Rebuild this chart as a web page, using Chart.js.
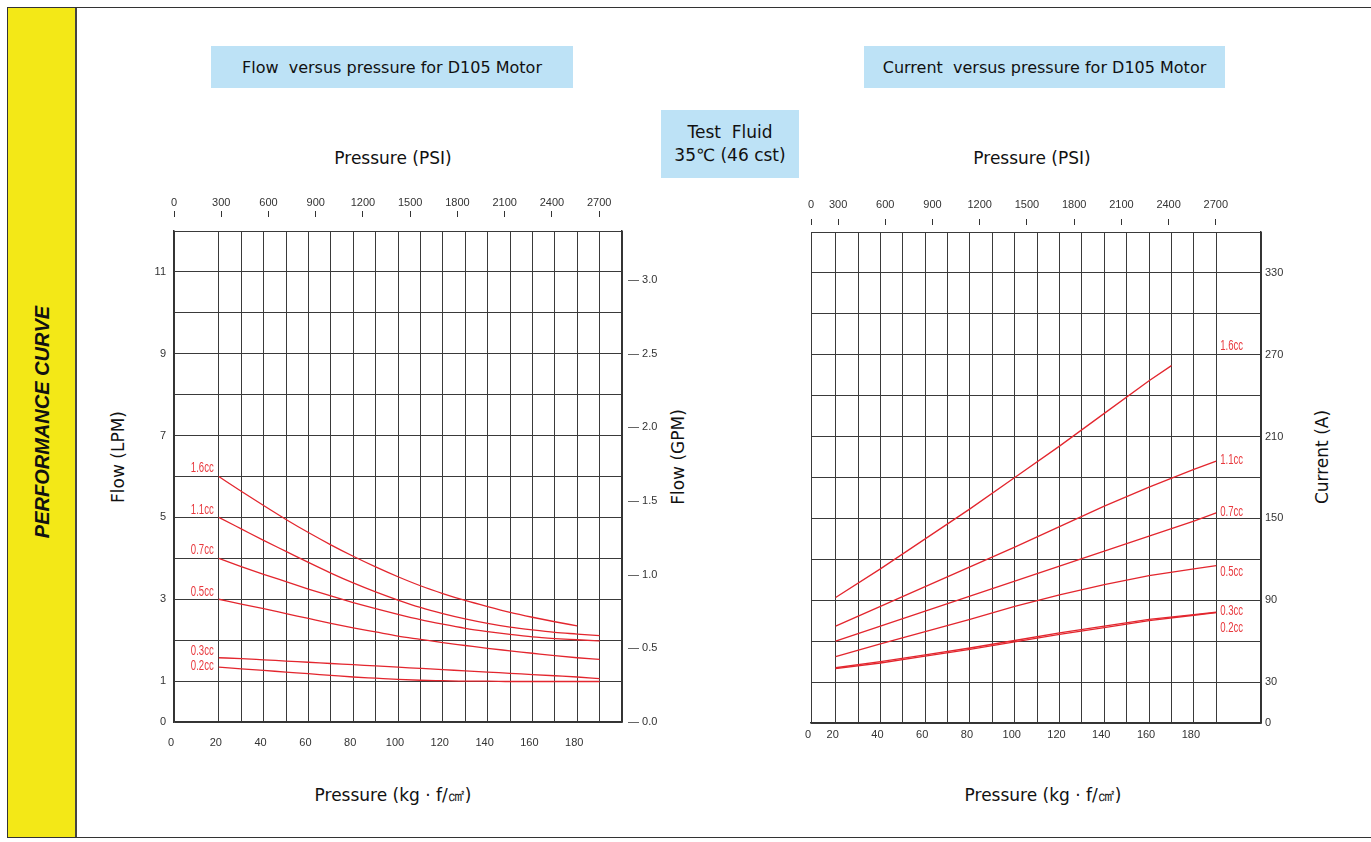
<!DOCTYPE html>
<html><head><meta charset="utf-8">
<script src="https://cdn.jsdelivr.net/npm/chart.js@4.4.1/dist/chart.umd.min.js"></script>
<style>
html,body{margin:0;padding:0;background:#fff;}
#page{position:relative;width:1371px;height:842px;overflow:hidden;font-family:'DejaVu Sans',sans-serif;color:#111;}
.frame{position:absolute;left:7px;top:7px;width:1370px;height:831px;border:1.5px solid #333;box-sizing:border-box;}
.band{position:absolute;left:8px;top:8px;width:69px;height:829px;background:#f3e817;border-right:2px solid #444;box-sizing:border-box;}
.vt{position:absolute;transform:translate(-50%,-50%) rotate(-90deg);white-space:nowrap;}
.box{position:absolute;background:#bde2f6;display:flex;flex-direction:column;align-items:center;justify-content:center;text-align:center;font-size:16px;white-space:pre;}
.t{position:absolute;transform:translate(-50%,-50%);white-space:pre;font-size:17px;}
canvas{position:absolute;}
</style>
</head>
<body>
<div id="page">
  <div class="frame"></div>
  <div class="band"></div>
  <div class="vt" style="left:42px;top:422px;font:italic bold 20px 'Liberation Sans',Arial,sans-serif;">PERFORMANCE CURVE</div>

  <div class="box" style="left:211px;top:46px;width:362px;height:42px;">Flow  versus pressure for D105 Motor</div>
  <div class="box" style="left:864px;top:46px;width:361px;height:42px;">Current  versus pressure for D105 Motor</div>
  <div class="box" style="left:661px;top:110px;width:138px;height:68px;line-height:23px;font-size:17px;">Test  Fluid
35℃ (46 cst)</div>

  <div class="t" style="left:393px;top:158px;">Pressure (PSI)</div>
  <div class="t" style="left:1032px;top:158px;">Pressure (PSI)</div>
  <div class="vt" style="left:118px;top:457px;font-size:17px;">Flow (LPM)</div>
  <div class="vt" style="left:678px;top:457px;font-size:17px;">Flow (GPM)</div>
  <div class="vt" style="left:1322px;top:457px;font-size:17px;">Current (A)</div>
  <div class="t" style="left:393px;top:795px;">Pressure (kg · f/㎠)</div>
  <div class="t" style="left:1043px;top:795px;">Pressure (kg · f/㎠)</div>

  <canvas id="c1" width="580" height="580" style="left:130px;top:180px;"></canvas>
  <canvas id="c2" width="600" height="580" style="left:770px;top:180px;"></canvas>
</div>
<script>
// ---------- DATA ----------
const seriesLabels = ['1.6cc', '1.1cc', '0.7cc', '0.5cc', '0.3cc', '0.2cc'];

// Flow (LPM) vs pressure (kgf/cm2)
const flowPressure = [20, 30, 40, 50, 60, 70, 80, 90, 100, 110, 120, 130, 140, 150, 160, 170, 180, 190];
const flow16 = [6.0, 5.64, 5.29, 4.95, 4.63, 4.33, 4.05, 3.79, 3.55, 3.33, 3.14, 2.97, 2.82, 2.68, 2.56, 2.45, 2.35];
const flow11 = [5.0, 4.72, 4.44, 4.17, 3.9, 3.64, 3.4, 3.18, 2.98, 2.8, 2.65, 2.52, 2.41, 2.32, 2.25, 2.19, 2.15, 2.11];
const flow07 = [4.0, 3.8, 3.61, 3.43, 3.25, 3.08, 2.92, 2.77, 2.63, 2.5, 2.39, 2.29, 2.21, 2.14, 2.08, 2.04, 2.01, 1.98];
const flow05 = [3.0, 2.88, 2.77, 2.65, 2.53, 2.41, 2.3, 2.2, 2.1, 2.02, 1.94, 1.87, 1.8, 1.74, 1.68, 1.62, 1.57, 1.53];
const flow03 = [1.57, 1.55, 1.52, 1.49, 1.46, 1.43, 1.40, 1.37, 1.34, 1.31, 1.28, 1.25, 1.22, 1.19, 1.16, 1.13, 1.10, 1.06];
const flow02 = [1.34, 1.30, 1.26, 1.22, 1.18, 1.14, 1.10, 1.07, 1.04, 1.02, 1.01, 1.0, 1.0, 0.99, 0.99, 0.99, 0.99, 0.99];

// Current (A) vs pressure (kgf/cm2)
const curPressure = [20, 40, 60, 80, 100, 120, 140, 160, 180, 190];
const curPressure16 = [20, 40, 60, 80, 100, 120, 140, 160, 170];
const cur16 = [92, 113, 135, 157, 180, 203, 227, 251, 262];
const cur11 = [71, 85.5, 100, 114.5, 129, 144, 159, 173, 186, 192];
const cur07 = [60, 71, 82, 93, 104, 115, 126, 137, 148, 154];
const cur05 = [48.7, 58, 67, 76, 85.5, 94, 101.5, 108, 113, 115.4];
const cur03 = [40.5, 45, 50, 55, 60.5, 66, 71, 76, 79.5, 81.2];
const cur02 = [39.8, 44, 49, 54, 59.5, 65, 70, 75, 79, 81];

// Axis ticks
const kgfGridLeft = [0, 20, 30, 40, 50, 60, 70, 80, 90, 100, 110, 120, 130, 140, 150, 160, 170, 180, 190, 200];
const kgfGridRight = [20, 30, 40, 50, 60, 70, 80, 90, 100, 110, 120, 130, 140, 150, 160, 170, 180, 190];
const psiTicks = [300, 600, 900, 1200, 1500, 1800, 2100, 2400, 2700];
const lpmTicks = [0, 1, 2, 3, 4, 5, 6, 7, 8, 9, 10, 11, 12];
const gpmTicks = [0, 0.5, 1.0, 1.5, 2.0, 2.5, 3.0];
const ampTicks = [0, 30, 60, 90, 120, 150, 180, 210, 240, 270, 300, 330, 360];

// ---------- RENDER ----------
const PSI_PER_KGF = 14.2233;
const LPM_PER_GPM = 3.6;
const RED = '#e3262e';
const GRID = '#3a3a3a';
const tickFont = { family: "'Liberation Sans Narrow','Liberation Sans',Arial,sans-serif", size: 11 };
const labelFontCss = "15px 'Liberation Sans',Arial,sans-serif";

const flowVals = [flow16, flow11, flow07, flow05, flow03, flow02];
const curVals = [cur16, cur11, cur07, cur05, cur03, cur02];

function mk(xs, ys, label, tension) {
  return {
    label, data: ys.map((y, i) => ({ x: xs[i], y })),
    borderColor: RED, borderWidth: 1.3, pointRadius: 0, fill: false,
    tension, cubicInterpolationMode: tension ? 'monotone' : 'default'
  };
}

function narrowText(ctx, text, x, y, align) {
  ctx.save();
  ctx.translate(x, y);
  ctx.scale(0.64, 1);
  ctx.textAlign = align;
  ctx.fillText(text, 0, 0);
  ctx.restore();
}

const leftLabelPlugin = {
  id: 'leftLabels',
  afterDatasetsDraw(chart) {
    const ctx = chart.ctx;
    const dy = { '1.6cc': -9, '1.1cc': -8, '0.7cc': -8, '0.5cc': -7, '0.3cc': -7, '0.2cc': -1 };
    ctx.save();
    ctx.fillStyle = '#e8383d'; ctx.font = labelFontCss; ctx.textBaseline = 'middle';
    chart.data.datasets.forEach((ds, i) => {
      const p = chart.getDatasetMeta(i).data[0];
      narrowText(ctx, ds.label, p.x - 5, p.y + dy[ds.label], 'right');
    });
    ctx.restore();
  }
};

const rightLabelPlugin = {
  id: 'rightLabels',
  afterDatasetsDraw(chart) {
    const ctx = chart.ctx;
    const dy = { '1.6cc': -20, '1.1cc': -1, '0.7cc': -1, '0.5cc': 6, '0.3cc': -1, '0.2cc': 15 };
    const xs = chart.scales.x.getPixelForValue(190) + 4;
    ctx.save();
    ctx.fillStyle = '#e8383d'; ctx.font = labelFontCss; ctx.textBaseline = 'middle';
    chart.data.datasets.forEach((ds, i) => {
      const pts = chart.getDatasetMeta(i).data;
      const p = pts[pts.length - 1];
      narrowText(ctx, ds.label, xs, p.y + dy[ds.label], 'left');
    });
    ctx.restore();
  }
};

// Chart 1: Flow
new Chart(document.getElementById('c1'), {
  type: 'line',
  data: {
    datasets: seriesLabels.map((l, i) => mk(flowPressure, flowVals[i], l, 0.4))
  },
  options: {
    responsive: false, animation: false,
    layout: { padding: 0 },
    plugins: { legend: { display: false }, tooltip: { enabled: false } },
    scales: {
      x: {
        type: 'linear', position: 'bottom', min: 0, max: 200,
        afterBuildTicks: s => { s.ticks = kgfGridLeft.map(v => ({ value: v })); },
        afterFit: s => { s.height = 38; },
        grid: { color: GRID, lineWidth: 1, drawTicks: false },
        border: { color: '#333', width: 1.5 },
        ticks: { font: tickFont, color: '#333', padding: 14, maxRotation: 0, autoSkip: false, labelOffset: -3,
          callback: v => (v % 20 === 0 && v < 200) ? String(v) : '' }
      },
      psi: {
        axis: 'x', type: 'linear', position: 'top', min: 0, max: 200 * PSI_PER_KGF,
        afterBuildTicks: s => { s.ticks = [0].concat(psiTicks).map(v => ({ value: v })); },
        afterFit: s => { s.height = 51; },
        grid: { drawOnChartArea: false, drawTicks: true, tickLength: 20, tickBorderDash: [6, 60], tickColor: '#333', tickWidth: 1 },
        border: { display: false },
        ticks: { font: tickFont, color: '#333', padding: 1, maxRotation: 0, autoSkip: false, callback: v => String(v) }
      },
      y: {
        type: 'linear', position: 'left', min: 0, max: 12,
        afterBuildTicks: s => { s.ticks = lpmTicks.map(v => ({ value: v })); },
        afterFit: s => { s.width = 44; },
        grid: { color: GRID, lineWidth: 1, drawTicks: false },
        border: { color: '#333', width: 1.5 },
        ticks: { font: tickFont, color: '#333', padding: 8, autoSkip: false,
          callback: v => (v === 0 || v % 2 === 1) ? String(v) : '' }
      },
      gpm: {
        axis: 'y', type: 'linear', position: 'right', min: 0, max: 12 / LPM_PER_GPM,
        afterBuildTicks: s => { s.ticks = gpmTicks.map(v => ({ value: v })); },
        afterFit: s => { s.width = 88; },
        grid: { drawOnChartArea: false, drawTicks: false },
        border: { color: '#333', width: 1.5 },
        ticks: { font: tickFont, color: '#333', padding: 6, autoSkip: false,
          callback: v => '— ' + v.toFixed(1) }
      }
    }
  },
  plugins: [leftLabelPlugin]
});

// Chart 2: Current
const XMIN2 = 9, XMAX2 = 210;
new Chart(document.getElementById('c2'), {
  type: 'line',
  data: {
    datasets: seriesLabels.map((l, i) => mk(i === 0 ? curPressure16 : curPressure, curVals[i], l, 0))
  },
  options: {
    responsive: false, animation: false,
    layout: { padding: { left: 41, top: 0, right: 0, bottom: 0 } },
    plugins: { legend: { display: false }, tooltip: { enabled: false } },
    scales: {
      x: {
        type: 'linear', position: 'bottom', min: XMIN2, max: XMAX2,
        afterBuildTicks: s => { s.ticks = [XMIN2].concat(kgfGridRight, [XMAX2]).map(v => ({ value: v })); },
        afterFit: s => { s.height = 37; },
        grid: { color: GRID, lineWidth: 1, drawTicks: false },
        border: { color: '#333', width: 1.5 },
        ticks: { font: tickFont, color: '#333', padding: 5, maxRotation: 0, autoSkip: false, labelOffset: -3,
          callback: v => v === XMIN2 ? '0' : ((v % 20 === 0 && v <= 180) ? String(v) : '') }
      },
      psi: {
        axis: 'x', type: 'linear', position: 'top', min: XMIN2 * PSI_PER_KGF, max: XMAX2 * PSI_PER_KGF,
        afterBuildTicks: s => { s.ticks = [XMIN2 * PSI_PER_KGF].concat(psiTicks).map(v => ({ value: v })); },
        afterFit: s => { s.height = 52; },
        grid: { drawOnChartArea: false, drawTicks: true, tickLength: 13, tickBorderDash: [6, 60], tickColor: '#333', tickWidth: 1 },
        border: { display: false },
        ticks: { font: tickFont, color: '#333', padding: 7, maxRotation: 0, autoSkip: false,
          callback: v => v < 300 ? '0' : String(v) }
      },
      y: {
        type: 'linear', position: 'right', min: 0, max: 360,
        afterBuildTicks: s => { s.ticks = ampTicks.map(v => ({ value: v })); },
        afterFit: s => { s.width = 109; },
        grid: { color: GRID, lineWidth: 1, drawTicks: false },
        border: { color: '#333', width: 1.5 },
        ticks: { font: tickFont, color: '#333', padding: 4, autoSkip: false,
          callback: v => (v === 0 || (v / 30) % 2 === 1) ? String(v) : '' }
      }
    }
  },
  plugins: [rightLabelPlugin]
});
</script>
</body></html>
